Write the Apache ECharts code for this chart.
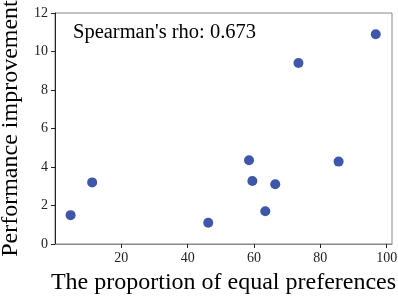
<!DOCTYPE html>
<html><head><meta charset="utf-8">
<script src="https://cdn.jsdelivr.net/npm/echarts@6/dist/echarts.min.js"></script>
<style>html,body{margin:0;padding:0;background:#fff}#c{width:398px;height:298px}</style>
</head><body><div id="c"></div>
<script>
const xValues = [4.7, 11.2, 46.2, 58.5, 59.5, 63.4, 66.4, 85.5, 73.4, 96.7];
const yValues = [1.5, 3.2, 1.1, 4.35, 3.27, 1.7, 3.1, 4.28, 9.4, 10.9];
const xTicks = [20, 40, 60, 80, 100];
const yTicks = [0, 2, 4, 6, 8, 10, 12];
const annotation = "Spearman's rho: 0.673";
const xTitle = "The proportion of equal preferences";
const yTitle = "Performance improvement";

const font = "'Liberation Serif', 'DejaVu Serif', serif";
const chart = echarts.init(document.getElementById('c'), null, {renderer: 'canvas'});
chart.setOption({
  animation: false,
  grid: {left: 55, top: 13, right: 6, bottom: 54, show: true, borderColor: '#888', borderWidth: 1,
         containLabel: false, outerBoundsMode: 'none'},
  xAxis: {
    type: 'value', min: 0, max: 101.6, interval: 20,
    name: xTitle, nameLocation: 'middle', nameGap: 27,
    nameTextStyle: {fontFamily: font, fontSize: 24, color: '#000'},
    axisLine: {show: true, onZero: false, lineStyle: {color: '#888'}},
    axisTick: {show: true, length: 4, lineStyle: {color: '#222'}, customValues: xTicks},
    axisLabel: {fontFamily: font, fontSize: 14, color: '#222', margin: 7, customValues: xTicks},
    splitLine: {show: false}
  },
  yAxis: {
    type: 'value', min: 0, max: 12, interval: 2,
    name: yTitle, nameLocation: 'middle', nameGap: 31,
    nameTextStyle: {fontFamily: font, fontSize: 24, color: '#000'},
    axisLine: {show: true, lineStyle: {color: '#222'}},
    axisTick: {show: true, length: 4, lineStyle: {color: '#222'}, customValues: yTicks},
    axisLabel: {fontFamily: font, fontSize: 14, color: '#222', margin: 7, customValues: yTicks},
    splitLine: {show: false}
  },
  graphic: [{
    type: 'text', left: 73, top: 22,
    style: {text: annotation, font: "20.5px 'Liberation Serif', serif", fill: '#000'}
  }],
  series: [{
    type: 'scatter',
    data: xValues.map((x, i) => [x, yValues[i]]),
    symbolSize: 10,
    itemStyle: {color: '#3F57A8', opacity: 1}
  }]
});
</script></body></html>
